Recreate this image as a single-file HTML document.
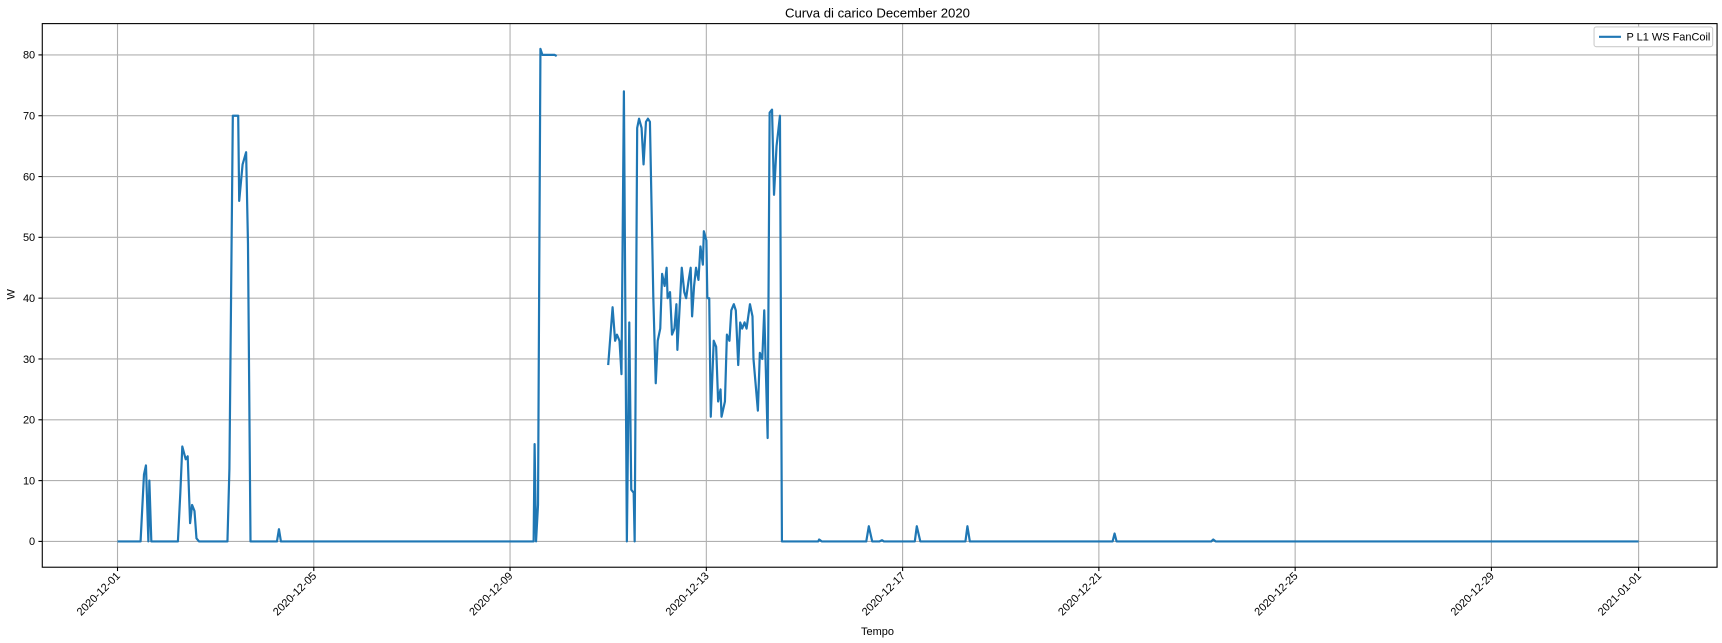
<!DOCTYPE html>
<html><head><meta charset="utf-8"><style>
body{margin:0;background:#fff;}
svg{display:block;font-family:"Liberation Sans","DejaVu Sans",sans-serif;}
</style></head><body>
<svg id="c" width="1722" height="643" viewBox="0 0 1568 585.5" preserveAspectRatio="none">
<text x="799" y="16" text-anchor="middle" font-size="12">Curva di carico December 2020</text>
<text x="799" y="578" text-anchor="middle" font-size="10">Tempo</text>
<text transform="translate(13,268) rotate(-90)" text-anchor="middle" font-size="10">W</text>
<g id="grid"></g><g id="ticks"></g>
<path id="line" fill="none" stroke="#1f77b4" stroke-width="2" stroke-linejoin="round"/>
<rect x="38.5" y="21.5" width="1525" height="495" fill="none" stroke="#000" stroke-width="1"/>
<g>
<rect x="1451.5" y="24.5" width="108" height="18" rx="2" fill="#fff" stroke="#ccc"/>
<line x1="1456" y1="33.5" x2="1476" y2="33.5" stroke="#1f77b4" stroke-width="2"/>
<text x="1481" y="37" font-size="10">P L1 WS FanCoil</text>
</g>
</svg>
<script>
const days=[0,0.47,0.54,0.58,0.63,0.65,0.69,1.23,1.28,1.32,1.39,1.43,1.48,1.52,1.57,1.61,1.66,2.24,2.28,2.35,2.46,2.48,2.55,2.62,2.66,2.71,3.25,3.29,3.33,8.48,8.50,8.53,8.57,8.62,8.66,8.80,8.91,8.95,
9.5,
10.00,10.09,10.14,10.18,10.23,10.27,10.32,10.38,10.43,10.47,10.52,10.54,10.59,10.63,10.68,10.72,10.77,10.81,10.85,10.92,10.97,11.01,11.06,11.10,11.15,11.19,11.21,11.26,11.30,11.35,11.39,11.41,11.46,11.50,11.55,11.59,11.64,11.68,11.71,11.75,11.79,11.84,11.88,11.93,11.95,12.00,12.02,12.06,12.09,12.15,12.20,12.24,12.29,12.31,12.38,12.42,12.47,12.51,12.56,12.60,12.65,12.69,12.73,12.78,12.82,12.89,12.94,12.96,13.05,13.09,13.14,13.18,13.25,13.29,13.34,13.38,13.43,13.50,13.54,14.28,14.30,14.35,15.26,15.31,15.38,15.53,15.58,15.62,16.25,16.29,16.36,17.28,17.32,17.37,20.28,20.32,20.36,22.29,22.33,22.38,31];
const watts=[0,0,11,12.5,0,10,0,0,8,15.6,13.5,14,3,6,5,0.5,0,0,12,70,70,56,62,64,49,0,0,2,0,0,16,0,6,81,80,80,80,79.8,
null,
29,38.5,33,34,33,27.5,74,0,36,8.5,8,0,68,69.5,68,62,69,69.5,69,40,26,33,35,44,42,45,40,41,34,35,39,31.5,39,45,41,40,43,45,37,42,45,43,48.5,45.5,51,49.5,40,40,20.5,33,32,23,25,20.5,23,34,33,38,39,38,29,36,35,36,35,39,37,30,21.5,31,30,38,17,70.5,71,57,65,70,0,0,0.3,0,0,2.5,0,0,0.2,0,0,2.5,0,0,2.5,0,0,1.3,0,0,0.3,0,0];
const yTicks=[0,10,20,30,40,50,60,70,80];
const xTickDays=[0,4,8,12,16,20,24,28,31];
const xTickLabels=["2020-12-01","2020-12-05","2020-12-09","2020-12-13","2020-12-17","2020-12-21","2020-12-25","2020-12-29","2021-01-01"];
const X=d=>107+d*44.68, Y=v=>493-v*5.5375;
const NS="http://www.w3.org/2000/svg";
const grid=document.getElementById('grid'), ticks=document.getElementById('ticks');
function mk(tag,attrs,parent){const e=document.createElementNS(NS,tag);for(const k in attrs)e.setAttribute(k,attrs[k]);parent.appendChild(e);return e;}
yTicks.forEach(v=>{const y=Y(v);
 const g=mk('line',{x1:38.5,x2:1563.5,y1:y,y2:y,stroke:'#b0b0b0','stroke-width':1},grid);
 
 
 mk('line',{x1:35,x2:38.5,y1:y,y2:y,stroke:'#000'},ticks);
 const t=mk('text',{x:32,y:y+3.5,'text-anchor':'end','font-size':10},ticks);t.textContent=v;
 
 
});
xTickDays.forEach((d,i)=>{const x=X(d);
 const g=mk('line',{x1:x,x2:x,y1:21.5,y2:516.5,stroke:'#b0b0b0','stroke-width':1},grid);
 
 
 mk('line',{x1:x,x2:x,y1:516.5,y2:520,stroke:'#000'},ticks);
 const t=mk('text',{transform:`translate(${x+3},${525}) rotate(-45)`,'text-anchor':'end','font-size':10},ticks);t.textContent=xTickLabels[i];
 
 
});
let p='',pen=false;
days.forEach((d,i)=>{const v=watts[i];if(v===null){pen=false;return;}
 p+=(pen?'L':'M')+X(d).toFixed(1)+' '+Y(v).toFixed(1);pen=true;});
document.getElementById('line').setAttribute('d',p);
</script>
</body></html>
